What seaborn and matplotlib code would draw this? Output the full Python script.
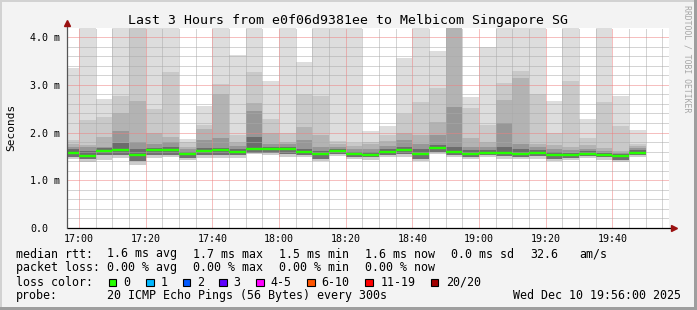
import numpy as np
import pandas as pd
import matplotlib
matplotlib.use("Agg")
import matplotlib.pyplot as plt
import seaborn as sns
from matplotlib.patches import Rectangle

# ---------------- data (milliseconds) ----------------
bar_start = ["16:55", "17:00", "17:05", "17:10", "17:15", "17:20", "17:25", "17:30",
             "17:35", "17:40", "17:45", "17:50", "17:55", "18:00", "18:05", "18:10",
             "18:15", "18:20", "18:25", "18:30", "18:35", "18:40", "18:45", "18:50",
             "18:55", "19:00", "19:05", "19:10", "19:15", "19:20", "19:25", "19:30",
             "19:35", "19:40", "19:45"]
rtt_max = [3.36, 4.5, 2.71, 4.5, 4.5, 4.5, 4.5, 1.86, 2.56, 4.5, 3.62, 4.5, 3.08, 4.5,
           3.47, 4.5, 4.5, 4.5, 2.03, 2.14, 3.57, 4.5, 3.71, 4.5, 2.75, 3.80, 4.5, 4.5,
           4.5, 2.66, 4.5, 2.28, 4.5, 2.77, 2.05]
rtt_u1 = [1.84, 2.26, 2.33, 2.77, 4.5, 2.49, 3.27, 1.80, 2.16, 3.01, 1.95, 3.27, 2.28, 2.00,
          2.80, 2.77, 1.82, 1.79, 1.81, 1.95, 2.38, 2.63, 2.94, 4.5, 2.51, 2.16, 3.03, 3.29,
          2.80, 2.00, 3.08, 1.89, 2.65, 2.14, 1.77]
rtt_u2 = [1.77, 1.73, 1.91, 2.40, 2.66, 1.98, 1.91, 1.70, 2.07, 2.80, 1.81, 2.61, 1.98, 1.81,
          2.12, 1.95, 1.75, 1.72, 1.75, 1.82, 2.00, 1.95, 2.23, 4.5, 1.88, 1.81, 2.68, 3.15,
          1.77, 1.74, 1.70, 1.74, 1.67, 1.62, 1.72]
rtt_u3 = [1.70, 1.70, 1.70, 2.03, 1.81, 1.77, 1.80, 1.66, 1.84, 1.88, 1.72, 2.45, 1.77, 1.75,
          1.84, 1.70, 1.70, 1.66, 1.66, 1.72, 1.84, 1.75, 1.95, 2.54, 1.70, 1.70, 2.19, 1.77,
          1.70, 1.66, 1.64, 1.66, 1.62, 1.58, 1.68]
rtt_u4 = [1.65, 1.62, 1.67, 1.78, 1.65, 1.68, 1.70, 1.60, 1.68, 1.68, 1.66, 1.90, 1.70, 1.70,
          1.66, 1.62, 1.65, 1.60, 1.60, 1.66, 1.70, 1.65, 1.73, 1.70, 1.64, 1.64, 1.70, 1.66,
          1.64, 1.60, 1.58, 1.62, 1.58, 1.55, 1.63]
rtt_median = [1.57, 1.50, 1.62, 1.63, 1.52, 1.64, 1.63, 1.54, 1.62, 1.63, 1.60, 1.65, 1.65, 1.65,
              1.60, 1.54, 1.61, 1.55, 1.53, 1.60, 1.63, 1.55, 1.68, 1.60, 1.56, 1.58, 1.58, 1.56,
              1.58, 1.52, 1.52, 1.56, 1.53, 1.50, 1.58]
rtt_d1 = [1.49, 1.45, 1.52, 1.53, 1.40, 1.52, 1.52, 1.47, 1.52, 1.52, 1.52, 1.58, 1.58, 1.55,
          1.52, 1.45, 1.55, 1.49, 1.49, 1.53, 1.54, 1.45, 1.60, 1.53, 1.48, 1.52, 1.50, 1.49,
          1.50, 1.45, 1.46, 1.50, 1.48, 1.43, 1.52]
rtt_min = [1.45, 1.38, 1.42, 1.46, 1.33, 1.47, 1.48, 1.42, 1.46, 1.46, 1.46, 1.55, 1.53, 1.49,
           1.48, 1.40, 1.51, 1.45, 1.43, 1.49, 1.49, 1.40, 1.55, 1.49, 1.44, 1.48, 1.44, 1.45,
           1.45, 1.40, 1.42, 1.46, 1.42, 1.39, 1.48]

x_tick_labels = ["17:00", "17:20", "17:40", "18:00", "18:20", "18:40", "19:00", "19:20", "19:40"]
y_tick_values = [0, 1, 2, 3, 4]
y_tick_labels = ["0.0", "1.0 m", "2.0 m", "3.0 m", "4.0 m"]

loss_labels = ["0", "1", "2", "3", "4-5", "6-10", "11-19", "20/20"]
loss_colors = ["#26ff00", "#00b8ff", "#0059ff", "#5e00ff", "#ff00ff", "#ff5500", "#ff0000", "#a10000"]

# ---------------- style ----------------
sns.set_theme(style="white")
plt.rcParams['font.family'] = ['DejaVu Sans Mono', 'DejaVu Sans']

W, H = 697, 310
fig = plt.figure(figsize=(W / 100, H / 100), dpi=100, facecolor="#f3f3f3")

def fx(px):
    return px / W

def fy(py):
    return 1 - py / H

ax = fig.add_axes([fx(67), fy(228), 602 / W, 200 / H])
ax.set_facecolor("white")

df = pd.DataFrame({"start": bar_start, "max": rtt_max, "u1": rtt_u1, "u2": rtt_u2,
                   "u3": rtt_u3, "u4": rtt_u4, "median": rtt_median, "d1": rtt_d1,
                   "min": rtt_min})
t0 = pd.Timestamp("2025-12-10 17:00")
df["x"] = (pd.to_datetime("2025-12-10 " + df["start"]) - t0).dt.total_seconds() / 60
step = 5
edges = np.append(df["x"].values, df["x"].values[-1] + step)

layers = [("min", "max", "#dddddd"),
          ("min", "median", "#cdcdcd"),
          ("median", "u1", "#c9c9c9"),
          ("median", "u2", "#b3b3b3"),
          ("median", "u3", "#979797"),
          ("median", "u4", "#6c6c6c"),
          ("d1", "median", "#707070")]
for lo, hi, col in layers:
    ax.stairs(df[hi].values, edges, baseline=df[lo].values, fill=True,
              color=col, linewidth=0, zorder=1)

ax.hlines(df["median"], df["x"], df["x"] + step, color="#26ff00", linewidth=1.7, zorder=3)

ax.set_xlim(-3.6, 177)
ax.set_ylim(0, 4.19)

major_x = np.arange(0, 161, 20)
ax.set_xticks(major_x)
ax.set_xticklabels(x_tick_labels)
ax.set_xticks(np.arange(0, 177, 5), minor=True)
ax.set_yticks(y_tick_values)
ax.set_yticklabels(y_tick_labels)
ax.set_yticks(np.arange(0, 4.19, 0.2), minor=True)
ax.set_axisbelow(False)
ax.grid(which="minor", color="#aaaaaa", linestyle=(0, (1, 1)), linewidth=0.72, snap=True)
ax.grid(which="major", color="#ee8080", linestyle=(0, (1, 1)), linewidth=0.72, snap=True)
ax.tick_params(axis="both", which="both", length=0, labelsize=7.2, colors="black")
ax.tick_params(axis="x", pad=4.3)
ax.tick_params(axis="y", pad=26.6)
for lab in ax.get_yticklabels():
    lab.set_horizontalalignment("left")
for sp in ax.spines.values():
    sp.set_visible(False)

# axis lines with arrows
ax.plot([0, 1.006], [0, 0], transform=ax.transAxes, clip_on=False, color="black", lw=0.9, zorder=5)
ax.plot([0, 0], [0, 1.025], transform=ax.transAxes, clip_on=False, color="#555555", lw=0.9, zorder=5)
ax.plot([1.008], [0], marker=">", ms=4, color="#9a1010", transform=ax.transAxes, clip_on=False, zorder=6)
ax.plot([0], [1.025], marker="^", ms=4, color="#9a1010", transform=ax.transAxes, clip_on=False, zorder=6)

# texts
fig.text(fx(348), fy(24), "Last 3 Hours from e0f06d9381ee to Melbicom Singapore SG",
         ha="center", va="baseline", fontsize=9.55, color="black")
fig.text(fx(11), fy(127), "Seconds", rotation=90, ha="center", va="center", fontsize=8, color="black")
fig.text(fx(687.5), fy(5), "RRDTOOL / TOBI OETIKER", rotation=270, ha="center", va="top",
         fontsize=5.9, color="#a6a6a6")

fs = 8.37
rows = [
    (257.5, [(16, "median rtt:"), (107, "1.6 ms avg"), (193, "1.7 ms max"), (279, "1.5 ms min"),
             (365, "1.6 ms now"), (450.7, "0.0 ms sd"), (530, "32.6"), (579, "am/s")]),
    (271.3, [(16, "packet loss:"), (107, "0.00 % avg"), (193, "0.00 % max"), (279, "0.00 % min"),
             (365, "0.00 % now")]),
    (285.5, [(16, "loss color:")]),
    (299.2, [(16, "probe:"), (107, "20 ICMP Echo Pings (56 Bytes) every 300s"),
             (513, "Wed Dec 10 19:56:00 2025")]),
]
for yb, items in rows:
    for xp, s in items:
        fig.text(fx(xp), fy(yb), s, ha="left", va="baseline", fontsize=fs, color="black")

box_x = [108.7, 146, 182.7, 219, 256, 307, 365, 430.7]
lab_x = [123, 160.7, 197, 233, 270, 321.7, 380.7, 445.7]
for bx, lx, lab, col in zip(box_x, lab_x, loss_labels, loss_colors):
    fig.patches.append(Rectangle((fx(bx), fy(286)), 7.5 / W, 7.5 / H, transform=fig.transFigure,
                                 facecolor=col, edgecolor="black", linewidth=0.8))
    fig.text(fx(lx), fy(285.5), lab, ha="left", va="baseline", fontsize=fs, color="black")

# 3D-like outer border
fig.patches.append(Rectangle((0, 1 - 2 / H), 1, 2 / H, transform=fig.transFigure, facecolor="#d2d2d2", lw=0))
fig.patches.append(Rectangle((0, 0), 2 / W, 1, transform=fig.transFigure, facecolor="#d2d2d2", lw=0))
fig.patches.append(Rectangle((0, 0), 1, 3 / H, transform=fig.transFigure, facecolor="#9e9e9e", lw=0))
fig.patches.append(Rectangle((1 - 3 / W, 0), 3 / W, 1, transform=fig.transFigure, facecolor="#9e9e9e", lw=0))

fig.savefig("out.png", dpi=100, facecolor=fig.get_facecolor())
